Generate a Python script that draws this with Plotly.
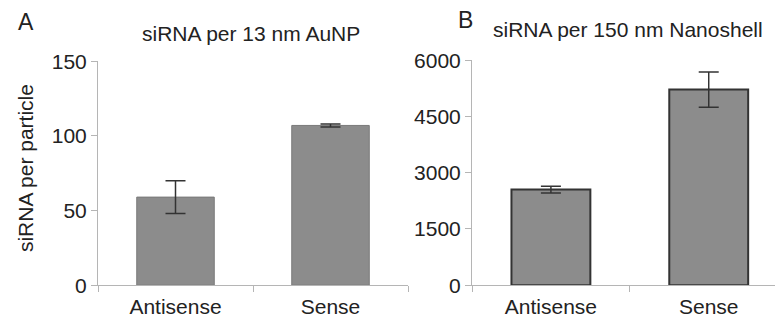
import plotly.graph_objects as go

categories = ["Antisense", "Sense"]
aunp_values = [59, 107]
aunp_errors = [11, 1]
shell_values = [2550, 5220]
shell_errors = [90, 470]
aunp_ticks = [0, 50, 100, 150]
shell_ticks = [0, 1500, 3000, 4500, 6000]

W, H = 775, 325
FONT = "Liberation Sans, Arial, sans-serif"
BAR = "#8c8c8c"
AX = "#b5b5b5"
TXT = "#222222"

fig = go.Figure()
fig.add_trace(go.Bar(
    x=categories, y=aunp_values, width=0.5,
    marker=dict(color=BAR, line=dict(color="#7a7a7a", width=1)),
    error_y=dict(type="data", array=aunp_errors, color="#333333", thickness=1.5, width=10),
    xaxis="x", yaxis="y", showlegend=False,
))
fig.add_trace(go.Bar(
    x=categories, y=shell_values, width=0.5,
    marker=dict(color=BAR, line=dict(color="#333333", width=2)),
    error_y=dict(type="data", array=shell_errors, color="#333333", thickness=1.5, width=10),
    xaxis="x2", yaxis="y2", showlegend=False,
))

def px_x(v):
    return v / W

def px_y(v):
    return (H - v) / H

common_x = dict(
    type="category", showline=True, linecolor=AX, linewidth=1,
    ticks="outside", tickson="boundaries", tickcolor=AX, ticklen=6,
    tickfont=dict(family=FONT, size=21, color=TXT), ticklabelstandoff=3,
    showgrid=False, zeroline=False, fixedrange=True,
)
common_y = dict(
    showline=True, linecolor=AX, linewidth=1,
    ticks="outside", tickcolor=AX, ticklen=6,
    tickfont=dict(family=FONT, size=21, color=TXT),
    showgrid=False, zeroline=False, tickmode="array", fixedrange=True,
)

def label(text, x, y, size, angle=0):
    return dict(text=text, x=px_x(x), y=px_y(y), xref="paper", yref="paper", showarrow=False,
                xanchor="center", yanchor="middle", textangle=angle,
                font=dict(family=FONT, size=size, color=TXT))

fig.update_layout(
    width=W, height=H,
    margin=dict(l=0, r=0, t=0, b=0),
    paper_bgcolor="white", plot_bgcolor="white",
    xaxis=dict(common_x, domain=[px_x(98), px_x(408)], anchor="y", range=[-0.5, 1.5]),
    yaxis=dict(common_y, domain=[px_y(294), px_y(53)], anchor="x", range=[0, 150],
               tickvals=aunp_ticks),
    xaxis2=dict(common_x, domain=[px_x(472), 1.0], anchor="y2", range=[-0.5, 1.42]),
    yaxis2=dict(common_y, domain=[px_y(294), px_y(52)], anchor="x2", range=[0, 6000],
                tickvals=shell_ticks),
    annotations=[
        label("A", 26, 11, 23),
        label("B", 465, 9, 23),
        label("siRNA per 13 nm AuNP", 251, 23, 21),
        label("siRNA per 150 nm Nanoshell", 628, 19, 21),
        label("siRNA per particle", 25, 168, 21, angle=-90),
    ],
)

fig.write_html("out.html", config={"displayModeBar": False},
               post_script="document.body.style.margin='0';document.body.style.overflow='hidden';")
